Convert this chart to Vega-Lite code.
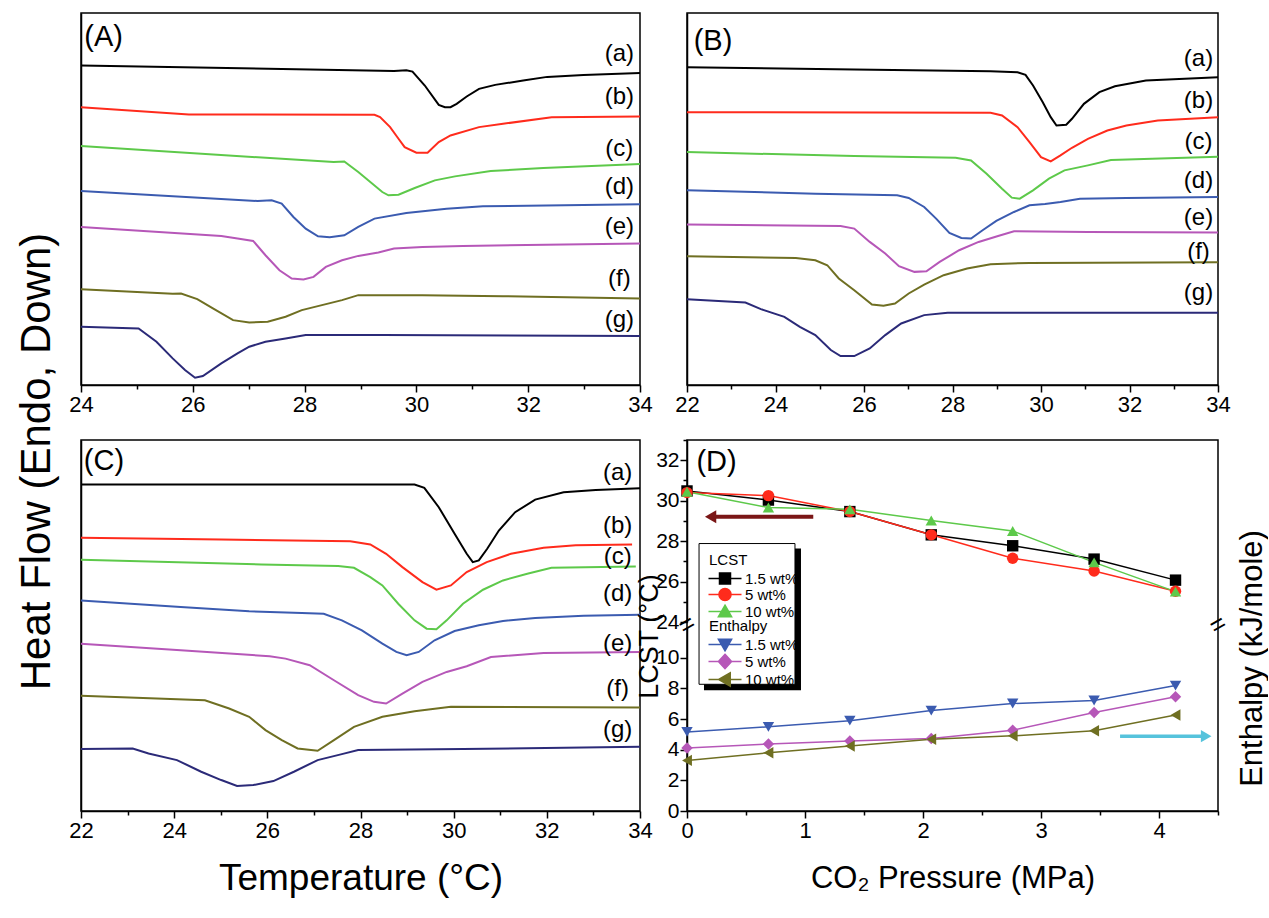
{
"$schema":"https://vega.github.io/schema/vega-lite/v6.json",
"padding":{"left":14,"top":12,"right":0,"bottom":5},
"background":"white",
"config":{"font":"Liberation Sans","view":{"stroke":"black","strokeWidth":1.5},
"axis":{"grid":false,"labelFontSize":22,"labelColor":"black","tickColor":"black","domainColor":"black","domainWidth":1.5,"tickWidth":1.5,"titleFontWeight":"normal","titleColor":"black","labelPadding":2,"labelFlush":false,"labelOverlap":false}},
"datasets":{
"A":[
{"T":24,"h":960,"c":"a"},{"T":29.6,"h":944,"c":"a"},{"T":29.82,"h":946,"c":"a"},{"T":29.93,"h":942,"c":"a"},{"T":30.15,"h":900,"c":"a"},{"T":30.4,"h":842,"c":"a"},{"T":30.51,"h":835,"c":"a"},{"T":30.61,"h":835,"c":"a"},{"T":30.72,"h":845,"c":"a"},{"T":30.9,"h":867,"c":"a"},{"T":31.12,"h":890,"c":"a"},{"T":31.41,"h":902,"c":"a"},{"T":31.91,"h":915,"c":"a"},{"T":32.34,"h":926,"c":"a"},{"T":32.99,"h":932,"c":"a"},{"T":34,"h":938,"c":"a"},
{"T":24,"h":835,"c":"b"},{"T":25.93,"h":813,"c":"b"},{"T":29.25,"h":812,"c":"b"},{"T":29.35,"h":805,"c":"b"},{"T":29.53,"h":775,"c":"b"},{"T":29.68,"h":740,"c":"b"},{"T":29.79,"h":715,"c":"b"},{"T":30.0,"h":698,"c":"b"},{"T":30.2,"h":698,"c":"b"},{"T":30.4,"h":730,"c":"b"},{"T":30.61,"h":750,"c":"b"},{"T":31.12,"h":775,"c":"b"},{"T":31.55,"h":785,"c":"b"},{"T":32.42,"h":805,"c":"b"},{"T":34,"h":807,"c":"b"},
{"T":24,"h":718,"c":"c"},{"T":28.52,"h":670,"c":"c"},{"T":28.71,"h":672,"c":"c"},{"T":28.96,"h":640,"c":"c"},{"T":29.39,"h":580,"c":"c"},{"T":29.5,"h":570,"c":"c"},{"T":29.68,"h":572,"c":"c"},{"T":29.97,"h":592,"c":"c"},{"T":30.33,"h":615,"c":"c"},{"T":30.69,"h":627,"c":"c"},{"T":31.33,"h":643,"c":"c"},{"T":32.27,"h":652,"c":"c"},{"T":34,"h":664,"c":"c"},
{"T":24,"h":583,"c":"d"},{"T":27.16,"h":553,"c":"d"},{"T":27.41,"h":555,"c":"d"},{"T":27.59,"h":545,"c":"d"},{"T":27.8,"h":505,"c":"d"},{"T":28.02,"h":470,"c":"d"},{"T":28.24,"h":447,"c":"d"},{"T":28.45,"h":444,"c":"d"},{"T":28.71,"h":450,"c":"d"},{"T":28.96,"h":475,"c":"d"},{"T":29.25,"h":500,"c":"d"},{"T":29.82,"h":517,"c":"d"},{"T":30.54,"h":530,"c":"d"},{"T":31.19,"h":537,"c":"d"},{"T":34,"h":543,"c":"d"},
{"T":24,"h":475,"c":"e"},{"T":26.51,"h":448,"c":"e"},{"T":26.8,"h":440,"c":"e"},{"T":27.08,"h":433,"c":"e"},{"T":27.3,"h":390,"c":"e"},{"T":27.55,"h":345,"c":"e"},{"T":27.77,"h":320,"c":"e"},{"T":27.98,"h":317,"c":"e"},{"T":28.16,"h":325,"c":"e"},{"T":28.38,"h":355,"c":"e"},{"T":28.67,"h":375,"c":"e"},{"T":28.96,"h":388,"c":"e"},{"T":29.32,"h":398,"c":"e"},{"T":29.6,"h":410,"c":"e"},{"T":30.11,"h":415,"c":"e"},{"T":30.83,"h":418,"c":"e"},{"T":34,"h":425,"c":"e"},
{"T":24,"h":288,"c":"f"},{"T":25.64,"h":274,"c":"f"},{"T":25.79,"h":275,"c":"f"},{"T":26.08,"h":258,"c":"f"},{"T":26.36,"h":230,"c":"f"},{"T":26.72,"h":195,"c":"f"},{"T":27.01,"h":188,"c":"f"},{"T":27.34,"h":190,"c":"f"},{"T":27.66,"h":205,"c":"f"},{"T":27.95,"h":225,"c":"f"},{"T":28.31,"h":240,"c":"f"},{"T":28.67,"h":255,"c":"f"},{"T":28.96,"h":270,"c":"f"},{"T":30.11,"h":270,"c":"f"},{"T":31.55,"h":267,"c":"f"},{"T":34,"h":260,"c":"f"},
{"T":24,"h":175,"c":"g"},{"T":25.03,"h":170,"c":"g"},{"T":25.35,"h":130,"c":"g"},{"T":25.64,"h":80,"c":"g"},{"T":25.86,"h":45,"c":"g"},{"T":26.04,"h":22,"c":"g"},{"T":26.18,"h":27,"c":"g"},{"T":26.51,"h":65,"c":"g"},{"T":26.8,"h":95,"c":"g"},{"T":27.01,"h":115,"c":"g"},{"T":27.3,"h":130,"c":"g"},{"T":27.66,"h":140,"c":"g"},{"T":28.02,"h":150,"c":"g"},{"T":29.39,"h":150,"c":"g"},{"T":34,"h":147,"c":"g"}
],
"B":[
{"T":22,"h":955,"c":"a"},{"T":25.78,"h":948,"c":"a"},{"T":28.86,"h":943,"c":"a"},{"T":29.47,"h":940,"c":"a"},{"T":29.65,"h":932,"c":"a"},{"T":29.82,"h":900,"c":"a"},{"T":30.04,"h":850,"c":"a"},{"T":30.22,"h":805,"c":"a"},{"T":30.35,"h":780,"c":"a"},{"T":30.57,"h":782,"c":"a"},{"T":30.7,"h":800,"c":"a"},{"T":30.97,"h":845,"c":"a"},{"T":31.32,"h":880,"c":"a"},{"T":31.67,"h":898,"c":"a"},{"T":32.37,"h":915,"c":"a"},{"T":34,"h":925,"c":"a"},
{"T":22,"h":820,"c":"b"},{"T":28.86,"h":818,"c":"b"},{"T":29.12,"h":810,"c":"b"},{"T":29.47,"h":775,"c":"b"},{"T":29.74,"h":730,"c":"b"},{"T":30.0,"h":685,"c":"b"},{"T":30.22,"h":672,"c":"b"},{"T":30.44,"h":690,"c":"b"},{"T":30.7,"h":713,"c":"b"},{"T":31.06,"h":740,"c":"b"},{"T":31.5,"h":765,"c":"b"},{"T":31.93,"h":780,"c":"b"},{"T":32.64,"h":795,"c":"b"},{"T":34,"h":805,"c":"b"},
{"T":22,"h":700,"c":"c"},{"T":25.78,"h":688,"c":"c"},{"T":28.07,"h":683,"c":"c"},{"T":28.42,"h":675,"c":"c"},{"T":28.77,"h":635,"c":"c"},{"T":29.12,"h":590,"c":"c"},{"T":29.34,"h":563,"c":"c"},{"T":29.52,"h":560,"c":"c"},{"T":29.82,"h":585,"c":"c"},{"T":30.18,"h":620,"c":"c"},{"T":30.53,"h":645,"c":"c"},{"T":31.06,"h":660,"c":"c"},{"T":31.58,"h":676,"c":"c"},{"T":34,"h":686,"c":"c"},
{"T":22,"h":585,"c":"d"},{"T":24.9,"h":575,"c":"d"},{"T":26.75,"h":570,"c":"d"},{"T":27.01,"h":562,"c":"d"},{"T":27.36,"h":535,"c":"d"},{"T":27.63,"h":500,"c":"d"},{"T":27.93,"h":457,"c":"d"},{"T":28.2,"h":442,"c":"d"},{"T":28.42,"h":440,"c":"d"},{"T":28.68,"h":465,"c":"d"},{"T":28.99,"h":493,"c":"d"},{"T":29.39,"h":520,"c":"d"},{"T":29.74,"h":540,"c":"d"},{"T":30.09,"h":544,"c":"d"},{"T":30.44,"h":550,"c":"d"},{"T":30.88,"h":560,"c":"d"},{"T":31.93,"h":562,"c":"d"},{"T":34,"h":565,"c":"d"},
{"T":22,"h":482,"c":"e"},{"T":25.47,"h":478,"c":"e"},{"T":25.78,"h":470,"c":"e"},{"T":26.13,"h":430,"c":"e"},{"T":26.48,"h":395,"c":"e"},{"T":26.79,"h":357,"c":"e"},{"T":27.14,"h":340,"c":"e"},{"T":27.41,"h":342,"c":"e"},{"T":27.71,"h":370,"c":"e"},{"T":28.15,"h":405,"c":"e"},{"T":28.59,"h":430,"c":"e"},{"T":29.03,"h":448,"c":"e"},{"T":29.39,"h":462,"c":"e"},{"T":31.06,"h":460,"c":"e"},{"T":34,"h":458,"c":"e"},
{"T":22,"h":387,"c":"f"},{"T":24.46,"h":382,"c":"f"},{"T":24.9,"h":375,"c":"f"},{"T":25.17,"h":360,"c":"f"},{"T":25.43,"h":320,"c":"f"},{"T":25.78,"h":285,"c":"f"},{"T":26.18,"h":242,"c":"f"},{"T":26.44,"h":238,"c":"f"},{"T":26.7,"h":245,"c":"f"},{"T":27.01,"h":275,"c":"f"},{"T":27.36,"h":302,"c":"f"},{"T":27.8,"h":330,"c":"f"},{"T":28.33,"h":350,"c":"f"},{"T":28.86,"h":363,"c":"f"},{"T":29.74,"h":367,"c":"f"},{"T":34,"h":369,"c":"f"},
{"T":22,"h":258,"c":"g"},{"T":23.32,"h":248,"c":"g"},{"T":23.67,"h":228,"c":"g"},{"T":24.2,"h":205,"c":"g"},{"T":24.55,"h":175,"c":"g"},{"T":24.9,"h":150,"c":"g"},{"T":25.25,"h":105,"c":"g"},{"T":25.47,"h":87,"c":"g"},{"T":25.78,"h":87,"c":"g"},{"T":26.13,"h":110,"c":"g"},{"T":26.48,"h":150,"c":"g"},{"T":26.84,"h":185,"c":"g"},{"T":27.36,"h":210,"c":"g"},{"T":27.89,"h":217,"c":"g"},{"T":34,"h":217,"c":"g"}
],
"C":[
{"T":22,"h":981,"c":"a"},{"T":29.16,"h":981,"c":"a"},{"T":29.37,"h":971,"c":"a"},{"T":29.68,"h":913,"c":"a"},{"T":30.02,"h":833,"c":"a"},{"T":30.28,"h":773,"c":"a"},{"T":30.41,"h":748,"c":"a"},{"T":30.54,"h":753,"c":"a"},{"T":30.72,"h":788,"c":"a"},{"T":30.97,"h":843,"c":"a"},{"T":31.32,"h":898,"c":"a"},{"T":31.75,"h":936,"c":"a"},{"T":32.36,"h":958,"c":"a"},{"T":33.05,"h":965,"c":"a"},{"T":34,"h":970,"c":"a"},
{"T":22,"h":821,"c":"b"},{"T":25.01,"h":816,"c":"b"},{"T":27.78,"h":811,"c":"b"},{"T":28.21,"h":801,"c":"b"},{"T":28.55,"h":773,"c":"b"},{"T":28.9,"h":733,"c":"b"},{"T":29.33,"h":688,"c":"b"},{"T":29.63,"h":665,"c":"b"},{"T":29.94,"h":678,"c":"b"},{"T":30.28,"h":718,"c":"b"},{"T":30.71,"h":748,"c":"b"},{"T":31.23,"h":773,"c":"b"},{"T":31.93,"h":791,"c":"b"},{"T":32.62,"h":799,"c":"b"},{"T":33.83,"h":801,"c":"b"},
{"T":22,"h":755,"c":"c"},{"T":25.87,"h":741,"c":"c"},{"T":27.52,"h":736,"c":"c"},{"T":27.86,"h":731,"c":"c"},{"T":28.21,"h":703,"c":"c"},{"T":28.47,"h":678,"c":"c"},{"T":28.81,"h":623,"c":"c"},{"T":29.16,"h":573,"c":"c"},{"T":29.42,"h":548,"c":"c"},{"T":29.63,"h":546,"c":"c"},{"T":29.85,"h":573,"c":"c"},{"T":30.2,"h":623,"c":"c"},{"T":30.63,"h":665,"c":"c"},{"T":31.06,"h":693,"c":"c"},{"T":31.58,"h":713,"c":"c"},{"T":32.1,"h":731,"c":"c"},{"T":33.91,"h":735,"c":"c"},
{"T":22,"h":633,"c":"d"},{"T":24.14,"h":613,"c":"d"},{"T":25.61,"h":600,"c":"d"},{"T":26.74,"h":595,"c":"d"},{"T":27.21,"h":593,"c":"d"},{"T":27.6,"h":573,"c":"d"},{"T":28.03,"h":543,"c":"d"},{"T":28.47,"h":503,"c":"d"},{"T":28.77,"h":478,"c":"d"},{"T":28.99,"h":468,"c":"d"},{"T":29.25,"h":478,"c":"d"},{"T":29.59,"h":513,"c":"d"},{"T":30.02,"h":541,"c":"d"},{"T":30.54,"h":558,"c":"d"},{"T":31.06,"h":571,"c":"d"},{"T":31.75,"h":580,"c":"d"},{"T":32.79,"h":587,"c":"d"},{"T":34,"h":590,"c":"d"},
{"T":22,"h":503,"c":"e"},{"T":24.14,"h":483,"c":"e"},{"T":26.05,"h":465,"c":"e"},{"T":26.39,"h":458,"c":"e"},{"T":26.91,"h":438,"c":"e"},{"T":27.43,"h":393,"c":"e"},{"T":27.95,"h":348,"c":"e"},{"T":28.29,"h":328,"c":"e"},{"T":28.55,"h":323,"c":"e"},{"T":28.9,"h":353,"c":"e"},{"T":29.33,"h":388,"c":"e"},{"T":29.85,"h":418,"c":"e"},{"T":30.28,"h":435,"c":"e"},{"T":30.8,"h":463,"c":"e"},{"T":31.93,"h":475,"c":"e"},{"T":34,"h":478,"c":"e"},
{"T":22,"h":346,"c":"f"},{"T":24.66,"h":333,"c":"f"},{"T":25.18,"h":308,"c":"f"},{"T":25.61,"h":283,"c":"f"},{"T":25.96,"h":243,"c":"f"},{"T":26.31,"h":213,"c":"f"},{"T":26.65,"h":188,"c":"f"},{"T":27.08,"h":181,"c":"f"},{"T":27.43,"h":213,"c":"f"},{"T":27.86,"h":253,"c":"f"},{"T":28.47,"h":283,"c":"f"},{"T":29.16,"h":300,"c":"f"},{"T":29.94,"h":313,"c":"f"},{"T":34,"h":311,"c":"f"},
{"T":22,"h":186,"c":"g"},{"T":23.11,"h":188,"c":"g"},{"T":23.45,"h":173,"c":"g"},{"T":24.06,"h":153,"c":"g"},{"T":24.58,"h":118,"c":"g"},{"T":25.01,"h":93,"c":"g"},{"T":25.35,"h":75,"c":"g"},{"T":25.7,"h":78,"c":"g"},{"T":26.13,"h":90,"c":"g"},{"T":26.57,"h":118,"c":"g"},{"T":27.08,"h":153,"c":"g"},{"T":27.6,"h":171,"c":"g"},{"T":27.95,"h":183,"c":"g"},{"T":30.2,"h":186,"c":"g"},{"T":34,"h":193,"c":"g"}
],
"AL":[{"T":33.63,"h":995,"t":"(a)"},{"T":33.63,"h":865,"t":"(b)"},{"T":33.63,"h":710,"t":"(c)"},{"T":33.63,"h":595,"t":"(d)"},{"T":33.63,"h":475,"t":"(e)"},{"T":33.63,"h":320,"t":"(f)"},{"T":33.63,"h":195,"t":"(g)"}],
"BL":[{"T":33.56,"h":980,"t":"(a)"},{"T":33.56,"h":855,"t":"(b)"},{"T":33.56,"h":730,"t":"(c)"},{"T":33.56,"h":612,"t":"(d)"},{"T":33.56,"h":502,"t":"(e)"},{"T":33.56,"h":400,"t":"(f)"},{"T":33.56,"h":277,"t":"(g)"}],
"CL":[{"T":33.52,"h":1015,"t":"(a)"},{"T":33.52,"h":858,"t":"(b)"},{"T":33.52,"h":763,"t":"(c)"},{"T":33.52,"h":653,"t":"(d)"},{"T":33.52,"h":503,"t":"(e)"},{"T":33.52,"h":368,"t":"(f)"},{"T":33.52,"h":243,"t":"(g)"}],
"L":[
{"P":0,"v":30.48,"s":"1.5 wt%"},{"P":0.69,"v":30.03,"s":"1.5 wt%"},{"P":1.38,"v":29.46,"s":"1.5 wt%"},{"P":2.07,"v":28.31,"s":"1.5 wt%"},{"P":2.76,"v":27.77,"s":"1.5 wt%"},{"P":3.45,"v":27.11,"s":"1.5 wt%"},{"P":4.14,"v":26.07,"s":"1.5 wt%"},
{"P":0,"v":30.4,"s":"5 wt%"},{"P":0.69,"v":30.25,"s":"5 wt%"},{"P":1.38,"v":29.46,"s":"5 wt%"},{"P":2.07,"v":28.31,"s":"5 wt%"},{"P":2.76,"v":27.15,"s":"5 wt%"},{"P":3.45,"v":26.52,"s":"5 wt%"},{"P":4.14,"v":25.52,"s":"5 wt%"},
{"P":0,"v":30.44,"s":"10 wt%"},{"P":0.69,"v":29.66,"s":"10 wt%"},{"P":1.38,"v":29.57,"s":"10 wt%"},{"P":2.07,"v":29.02,"s":"10 wt%"},{"P":2.76,"v":28.5,"s":"10 wt%"},{"P":3.45,"v":26.95,"s":"10 wt%"},{"P":4.14,"v":25.5,"s":"10 wt%"}
],
"E":[
{"P":0,"v":5.16,"s":"1.5 wt%"},{"P":0.69,"v":5.49,"s":"1.5 wt%"},{"P":1.38,"v":5.89,"s":"1.5 wt%"},{"P":2.07,"v":6.55,"s":"1.5 wt%"},{"P":2.76,"v":7.01,"s":"1.5 wt%"},{"P":3.45,"v":7.21,"s":"1.5 wt%"},{"P":4.14,"v":8.18,"s":"1.5 wt%"},
{"P":0,"v":4.11,"s":"5 wt%"},{"P":0.69,"v":4.37,"s":"5 wt%"},{"P":1.38,"v":4.57,"s":"5 wt%"},{"P":2.07,"v":4.73,"s":"5 wt%"},{"P":2.76,"v":5.27,"s":"5 wt%"},{"P":3.45,"v":6.42,"s":"5 wt%"},{"P":4.14,"v":7.45,"s":"5 wt%"},
{"P":0,"v":3.3,"s":"10 wt%"},{"P":0.69,"v":3.8,"s":"10 wt%"},{"P":1.38,"v":4.24,"s":"10 wt%"},{"P":2.07,"v":4.68,"s":"10 wt%"},{"P":2.76,"v":4.9,"s":"10 wt%"},{"P":3.45,"v":5.23,"s":"10 wt%"},{"P":4.14,"v":6.26,"s":"10 wt%"}
]
},
"columns":2,
"spacing":{"row":55,"column":47},
"bounds":"flush",
"resolve":{"scale":{"color":"independent","shape":"independent"}},
"concat":[
{"width":559,"height":372,
"layer":[
{"data":{"name":"A"},"mark":{"type":"line","strokeWidth":2},
"encoding":{
"x":{"field":"T","type":"quantitative","scale":{"domain":[24,34],"nice":false,"zero":false},"axis":{"values":[24,25,26,27,28,29,30,31,32,33,34],"labelExpr":"datum.value % 2 === 0 ? datum.label : ''","tickSize":{"condition":{"test":"datum.value % 2 === 0","value":7},"value":4},"title":null}},
"y":{"field":"h","type":"quantitative","scale":{"domain":[0,1118],"nice":false,"zero":false},"axis":{"labels":false,"ticks":false,"title":"Heat Flow (Endo, Down)","titleFontSize":42,"titleX":-32,"titleY":448,"titleAngle":270,"titleAlign":"center","titleBaseline":"alphabetic"}},
"color":{"field":"c","type":"nominal","scale":{"domain":["a","b","c","d","e","f","g"],"range":["#000000","#ff2b1c","#5dc94a","#3b5bb0","#b657b8","#6f6f22","#2b2a78"]},"legend":null}}},
{"data":{"name":"AL"},"mark":{"type":"text","fontSize":24,"align":"center","baseline":"middle","color":"black"},
"encoding":{"x":{"field":"T","type":"quantitative"},"y":{"field":"h","type":"quantitative"},"text":{"field":"t"}}},
{"data":{"values":[{"T":24.06,"h":1045,"t":"(A)"}]},"mark":{"type":"text","fontSize":29,"align":"left","baseline":"middle","color":"black"},
"encoding":{"x":{"field":"T","type":"quantitative"},"y":{"field":"h","type":"quantitative"},"text":{"field":"t"}}}
]},
{"width":531,"height":372,
"layer":[
{"data":{"name":"B"},"mark":{"type":"line","strokeWidth":2},
"encoding":{
"x":{"field":"T","type":"quantitative","scale":{"domain":[22,34],"nice":false,"zero":false},"axis":{"values":[22,23,24,25,26,27,28,29,30,31,32,33,34],"labelExpr":"datum.value % 2 === 0 ? datum.label : ''","tickSize":{"condition":{"test":"datum.value % 2 === 0","value":7},"value":4},"title":null}},
"y":{"field":"h","type":"quantitative","scale":{"domain":[0,1118],"nice":false,"zero":false},"axis":{"labels":false,"ticks":false,"title":null}},
"color":{"field":"c","type":"nominal","scale":{"domain":["a","b","c","d","e","f","g"],"range":["#000000","#ff2b1c","#5dc94a","#3b5bb0","#b657b8","#6f6f22","#2b2a78"]},"legend":null}}},
{"data":{"name":"BL"},"mark":{"type":"text","fontSize":24,"align":"center","baseline":"middle","color":"black"},
"encoding":{"x":{"field":"T","type":"quantitative"},"y":{"field":"h","type":"quantitative"},"text":{"field":"t"}}},
{"data":{"values":[{"T":22.15,"h":1035,"t":"(B)"}]},"mark":{"type":"text","fontSize":29,"align":"left","baseline":"middle","color":"black"},
"encoding":{"x":{"field":"T","type":"quantitative"},"y":{"field":"h","type":"quantitative"},"text":{"field":"t"}}}
]},
{"width":559,"height":371,
"layer":[
{"data":{"name":"C"},"mark":{"type":"line","strokeWidth":2},
"encoding":{
"x":{"field":"T","type":"quantitative","scale":{"domain":[22,34],"nice":false,"zero":false},"axis":{"values":[22,23,24,25,26,27,28,29,30,31,32,33,34],"labelExpr":"datum.value % 2 === 0 ? datum.label : ''","tickSize":{"condition":{"test":"datum.value % 2 === 0","value":7},"value":4},"title":"Temperature (°C)","titleFontSize":37,"titlePadding":19}},
"y":{"field":"h","type":"quantitative","scale":{"domain":[0,1115],"nice":false,"zero":false},"axis":{"labels":false,"ticks":false,"title":null}},
"color":{"field":"c","type":"nominal","scale":{"domain":["a","b","c","d","e","f","g"],"range":["#000000","#ff2b1c","#5dc94a","#3b5bb0","#b657b8","#6f6f22","#2b2a78"]},"legend":null}}},
{"data":{"name":"CL"},"mark":{"type":"text","fontSize":24,"align":"center","baseline":"middle","color":"black"},
"encoding":{"x":{"field":"T","type":"quantitative"},"y":{"field":"h","type":"quantitative"},"text":{"field":"t"}}},
{"data":{"values":[{"T":22.06,"h":1053,"t":"(C)"}]},"mark":{"type":"text","fontSize":29,"align":"left","baseline":"middle","color":"black"},
"encoding":{"x":{"field":"T","type":"quantitative"},"y":{"field":"h","type":"quantitative"},"text":{"field":"t"}}}
]},
{"width":531,"height":371,
"layer":[
{"layer":[
{"data":{"values":[{"x":0.144,"x2":0.966,"y":27.64,"y2":20.62}]},"mark":{"type":"rect","color":"black"},
"encoding":{
"x":{"field":"x","type":"quantitative","scale":{"domain":[0,4.5],"nice":false,"zero":false},"axis":{"values":[0,0.5,1,1.5,2,2.5,3,3.5,4,4.5],"labelExpr":"datum.value % 1 === 0 ? format(datum.value, 'd') : ''","tickSize":{"condition":{"test":"datum.value % 1 === 0","value":7},"value":4},"title":"CO₂ Pressure (MPa)","titleFontSize":31,"titlePadding":22}},
"x2":{"field":"x2"},
"y":{"field":"y","type":"quantitative","scale":{"domain":[24,33],"range":[182,0],"nice":false,"zero":false},"axis":{"orient":"left","labelFontSize":21,"labelPadding":1,"values":[24,25,26,27,28,29,30,31,32,33],"labelExpr":"datum.value % 2 === 0 ? datum.label : ''","tickSize":{"condition":{"test":"datum.value % 2 === 0","value":7},"value":4},"title":"LCST (°C)","titleFontSize":27,"titleX":-30,"titleY":196,"titleAngle":270,"titleAlign":"center","titleBaseline":"alphabetic"}},
"y2":{"field":"y2"}}},
{"data":{"values":[{"x":0.102,"x2":0.915,"y":27.88,"y2":20.92}]},"mark":{"type":"rect","fill":"white","stroke":"black","strokeWidth":1},
"encoding":{"x":{"field":"x","type":"quantitative"},"x2":{"field":"x2"},"y":{"field":"y","type":"quantitative"},"y2":{"field":"y2"}}},
{"data":{"name":"L"},"mark":{"type":"line","strokeWidth":1.5},
"encoding":{"x":{"field":"P","type":"quantitative"},"y":{"field":"v","type":"quantitative"},
"color":{"field":"s","type":"nominal","scale":{"domain":["1.5 wt%","5 wt%","10 wt%"],"range":["#000000","#ff2b1c","#5dc94a"]},"legend":null}}},
{"data":{"name":"L"},"mark":{"type":"point","filled":true,"size":130,"opacity":1},
"encoding":{"x":{"field":"P","type":"quantitative"},"y":{"field":"v","type":"quantitative"},
"color":{"field":"s","type":"nominal","scale":{"domain":["1.5 wt%","5 wt%","10 wt%"],"range":["#000000","#ff2b1c","#5dc94a"]},"legend":null},
"shape":{"field":"s","type":"nominal","scale":{"domain":["1.5 wt%","5 wt%","10 wt%"],"range":["square","circle","triangle-up"]},"legend":null}}},
{"data":{"name":"L"},"mark":{"type":"point","filled":true,"opacity":0},
"encoding":{"x":{"field":"P","type":"quantitative"},"y":{"field":"v","type":"quantitative"},
"color":{"field":"s","type":"nominal","scale":{"domain":["1.5 wt%","5 wt%","10 wt%"],"range":["#000000","#ff2b1c","#5dc94a"]},"legend":{"title":"LCST","orient":"none","legendX":22,"legendY":113,"titleFontSize":15,"titleFontWeight":"normal","titleColor":"black","labelFontSize":15,"labelColor":"black","symbolSize":121,"symbolOffset":8.5,"labelOffset":12.5,"rowPadding":-4,"titlePadding":3,"padding":0,"symbolOpacity":1,"symbolStrokeWidth":1.5,"encode":{"symbols":{"update":{"stroke":{"signal":"datum.value === '1.5 wt%' ? '#000000' : datum.value === '5 wt%' ? '#ff2b1c' : '#5dc94a'"}}}}}},
"shape":{"field":"s","type":"nominal","scale":{"domain":["1.5 wt%","5 wt%","10 wt%"],"range":["M-3,0H3M-1,-1H1V1H-1Z","M-3,0H3M-1.1,0A1.1,1.1,0,1,0,1.1,0A1.1,1.1,0,1,0,-1.1,0Z","M-3,0H3M0,-1.15L1.2,0.95H-1.2Z"]},"legend":{"title":"LCST","orient":"none","legendX":22,"legendY":113,"titleFontSize":15,"titleFontWeight":"normal","titleColor":"black","labelFontSize":15,"labelColor":"black","symbolSize":121,"symbolOffset":8.5,"labelOffset":12.5,"rowPadding":-4,"titlePadding":3,"padding":0,"symbolOpacity":1,"symbolStrokeWidth":1.5,"encode":{"symbols":{"update":{"stroke":{"signal":"datum.value === '1.5 wt%' ? '#000000' : datum.value === '5 wt%' ? '#ff2b1c' : '#5dc94a'"}}}}}}}},
{"data":{"values":[{"x":0.22,"x2":1.07,"y":29.2}]},"mark":{"type":"rule","strokeWidth":4,"color":"#7a1616"},
"encoding":{"x":{"field":"x","type":"quantitative"},"x2":{"field":"x2"},"y":{"field":"y","type":"quantitative"}}},
{"data":{"values":[{"x":0.2,"y":29.2}]},"mark":{"type":"point","shape":"triangle-left","filled":true,"size":170,"color":"#7a1616","opacity":1},
"encoding":{"x":{"field":"x","type":"quantitative"},"y":{"field":"y","type":"quantitative"}}},
{"data":{"values":[{"x":0,"y":23.85},{"x":4.5,"y":23.85}]},"mark":{"type":"text","text":"=","fontSize":26,"angle":330,"align":"center","baseline":"middle","color":"black"},
"encoding":{"x":{"field":"x","type":"quantitative"},"y":{"field":"y","type":"quantitative"}}},
{"data":{"values":[{"x":0.08,"y":31.9,"t":"(D)"}]},"mark":{"type":"text","fontSize":29,"align":"left","baseline":"middle","color":"black"},
"encoding":{"x":{"field":"x","type":"quantitative"},"y":{"field":"y","type":"quantitative"},"text":{"field":"t"}}}
],
"resolve":{"scale":{"color":"independent","shape":"independent"}}},
{"layer":[
{"data":{"name":"E"},"mark":{"type":"line","strokeWidth":1.5},
"encoding":{"x":{"field":"P","type":"quantitative"},
"y":{"field":"v","type":"quantitative","scale":{"domain":[0,12],"range":[371,187],"nice":false,"zero":false},"axis":{"orient":"left","labelFontSize":21,"labelPadding":1,"values":[0,1,2,3,4,5,6,7,8,9,10,11],"labelExpr":"datum.value % 2 === 0 && datum.value <= 10 ? datum.label : ''","tickSize":{"condition":{"test":"datum.value % 2 === 0","value":7},"value":4},"title":null}},
"color":{"field":"s","type":"nominal","scale":{"domain":["1.5 wt%","5 wt%","10 wt%"],"range":["#3b5bb0","#b657b8","#6f6f22"]},"legend":null}}},
{"data":{"name":"E"},"mark":{"type":"point","filled":true,"size":130,"opacity":1},
"encoding":{"x":{"field":"P","type":"quantitative"},"y":{"field":"v","type":"quantitative"},
"color":{"field":"s","type":"nominal","scale":{"domain":["1.5 wt%","5 wt%","10 wt%"],"range":["#3b5bb0","#b657b8","#6f6f22"]},"legend":null},
"shape":{"field":"s","type":"nominal","scale":{"domain":["1.5 wt%","5 wt%","10 wt%"],"range":["triangle-down","diamond","triangle-left"]},"legend":null}}},
{"data":{"name":"E"},"mark":{"type":"point","filled":true,"opacity":0},
"encoding":{"x":{"field":"P","type":"quantitative"},"y":{"field":"v","type":"quantitative"},
"color":{"field":"s","type":"nominal","scale":{"domain":["1.5 wt%","5 wt%","10 wt%"],"range":["#3b5bb0","#b657b8","#6f6f22"]},"legend":{"title":"Enthalpy","orient":"none","legendX":22,"legendY":179,"titleFontSize":15,"titleFontWeight":"normal","titleColor":"black","labelFontSize":15,"labelColor":"black","symbolSize":121,"symbolOffset":8.5,"labelOffset":12.5,"rowPadding":-4.5,"titlePadding":3,"padding":0,"symbolOpacity":1,"symbolStrokeWidth":1.5,"encode":{"symbols":{"update":{"stroke":{"signal":"datum.value === '1.5 wt%' ? '#3b5bb0' : datum.value === '5 wt%' ? '#b657b8' : '#6f6f22'"}}}}}},
"shape":{"field":"s","type":"nominal","scale":{"domain":["1.5 wt%","5 wt%","10 wt%"],"range":["M-3,0H3M0,1.15L1.2,-0.95H-1.2Z","M-3,0H3M0,-1.3L1.2,0L0,1.3L-1.2,0Z","M-3,0H3M-1.15,0L0.95,-1.2V1.2Z"]},"legend":{"title":"Enthalpy","orient":"none","legendX":22,"legendY":179,"titleFontSize":15,"titleFontWeight":"normal","titleColor":"black","labelFontSize":15,"labelColor":"black","symbolSize":121,"symbolOffset":8.5,"labelOffset":12.5,"rowPadding":-4.5,"titlePadding":3,"padding":0,"symbolOpacity":1,"symbolStrokeWidth":1.5,"encode":{"symbols":{"update":{"stroke":{"signal":"datum.value === '1.5 wt%' ? '#3b5bb0' : datum.value === '5 wt%' ? '#b657b8' : '#6f6f22'"}}}}}}}},
{"data":{"values":[{"x":3.67,"x2":4.38,"y":4.88}]},"mark":{"type":"rule","strokeWidth":3.5,"color":"#56c3dc"},
"encoding":{"x":{"field":"x","type":"quantitative"},"x2":{"field":"x2"},"y":{"field":"y","type":"quantitative"}}},
{"data":{"values":[{"x":4.4,"y":4.88}]},"mark":{"type":"point","shape":"triangle-right","filled":true,"size":150,"color":"#56c3dc","opacity":1},
"encoding":{"x":{"field":"x","type":"quantitative"},"y":{"field":"y","type":"quantitative"}}}
],
"resolve":{"scale":{"color":"independent","shape":"independent"}}},
{"data":{"name":"E"},"mark":{"type":"point","opacity":0},
"encoding":{"x":{"field":"P","type":"quantitative"},
"y":{"field":"v","type":"quantitative","scale":{"domain":[0,12],"range":[371,187],"nice":false,"zero":false},"axis":{"orient":"right","labels":false,"ticks":false,"domain":false,"title":"Enthalpy (kJ/mole)","titleFontSize":31,"titleX":43,"titleY":218,"titleAngle":270,"titleAlign":"center","titleBaseline":"alphabetic"}}}}
],
"resolve":{"scale":{"y":"independent","color":"independent","shape":"independent"},"axis":{"y":"independent"}}}
]
}
